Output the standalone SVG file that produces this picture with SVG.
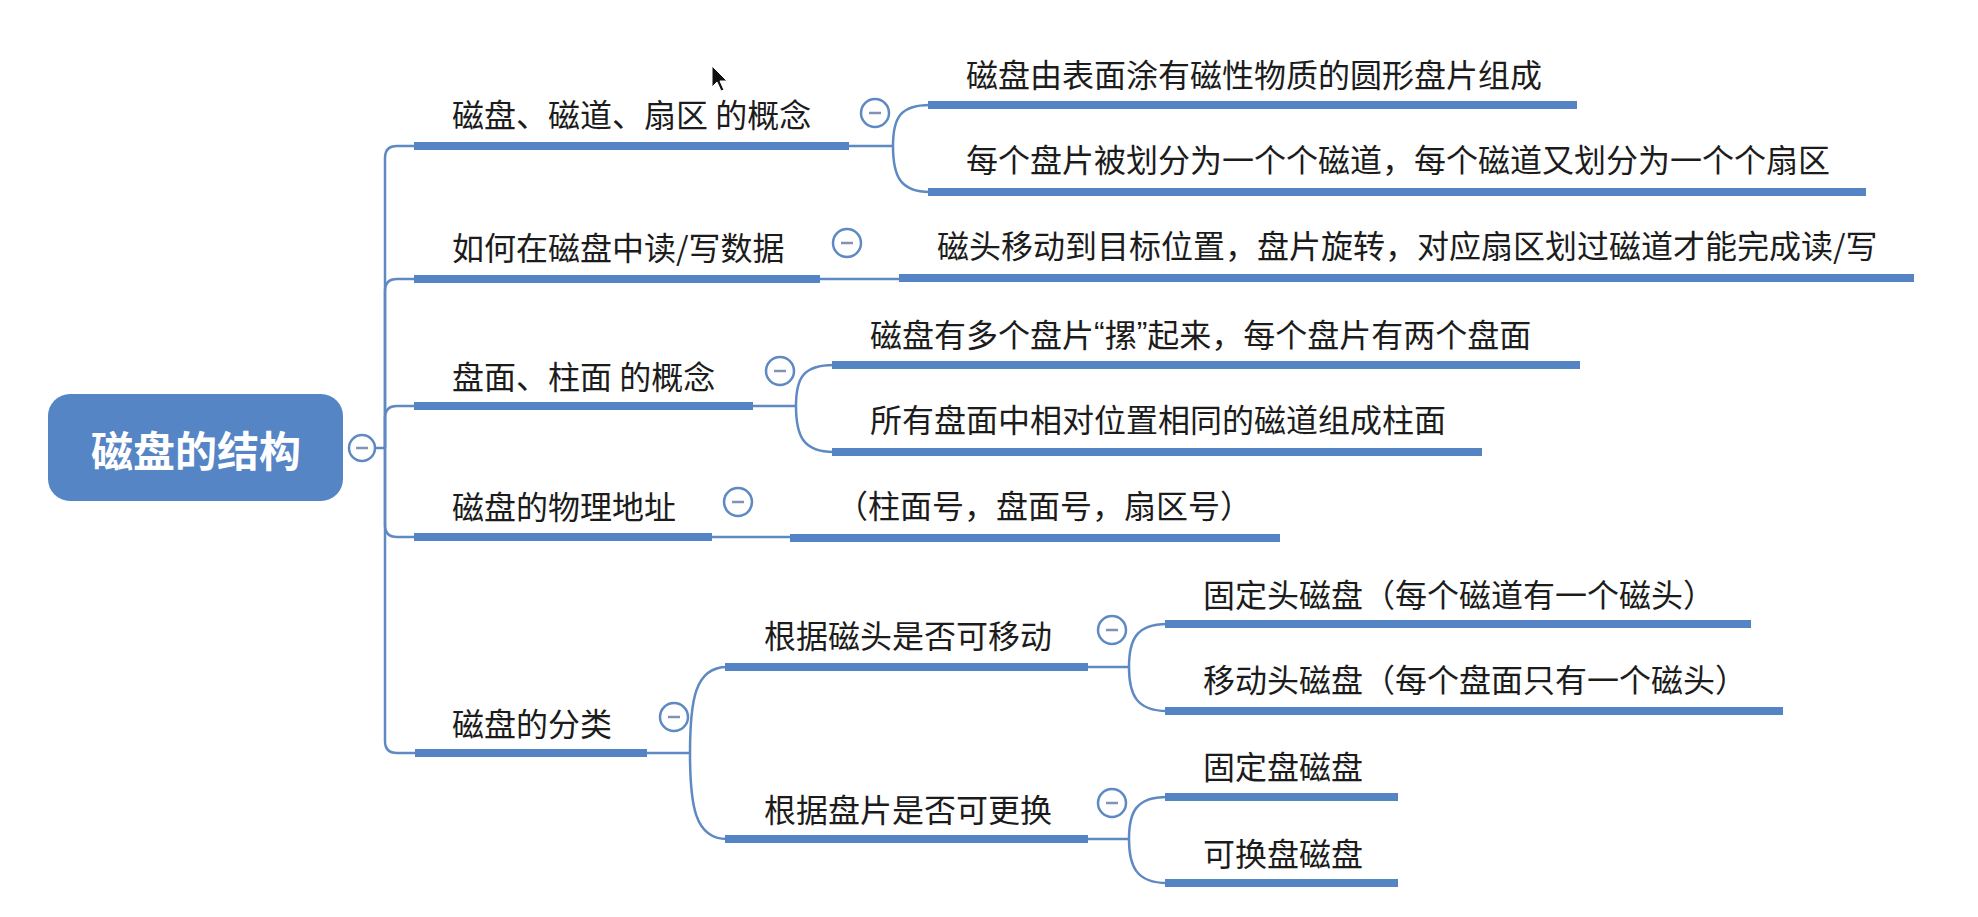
<svg xmlns="http://www.w3.org/2000/svg" width="1978" height="917" viewBox="0 0 1978 917">
<style>
  .t { font-family: "Noto Sans CJK SC", "Noto Sans", sans-serif; font-size: 32px; fill: #1c1c1c; dominant-baseline: central; }
  .q { font-family: "Liberation Sans", "Noto Sans", sans-serif; }
  .root-t { font-family: "Noto Sans CJK SC", "Noto Sans", sans-serif; font-size: 42px; font-weight: bold; fill: #ffffff; dominant-baseline: central; text-anchor: middle; }
  .ul { stroke: #5584c4; stroke-width: 8; fill: none; }
  .cn { stroke: #5f89c2; stroke-width: 2.5; fill: none; }
  .cc { fill: #ffffff; stroke: #5f89c2; stroke-width: 2.5; }
  .mn { stroke: #8392b3; stroke-width: 2.5; }
</style>
<rect width="1978" height="917" fill="#ffffff"/>

<g id="connectors">
  <path class="cn" d="M 362 448 H 385"/>
  <path class="cn" d="M 385 448 V 158 Q 385 146 397 146 H 416"/>
  <path class="cn" d="M 385 448 V 291 Q 385 279 397 279 H 416"/>
  <path class="cn" d="M 385 448 V 418 Q 385 406 397 406 H 416"/>
  <path class="cn" d="M 385 448 V 525 Q 385 537 397 537 H 416"/>
  <path class="cn" d="M 385 448 V 741 Q 385 753 397 753 H 417"/>
  <path class="cn" d="M 847 146 H 893"/>
  <path class="cn" d="M 893 146 C 893 118 900 105 930 105"/>
  <path class="cn" d="M 893 146 C 893 176 900 192 930 192"/>
  <path class="cn" d="M 818 279 H 901"/>
  <path class="cn" d="M 751 406 H 796"/>
  <path class="cn" d="M 796 406 C 796 378 803 365 834 365"/>
  <path class="cn" d="M 796 406 C 796 436 803 452 834 452"/>
  <path class="cn" d="M 710 537 H 792"/>
  <path class="cn" d="M 645 753 H 690"/>
  <path class="cn" d="M 690 753 C 690 700 695 667 727 667"/>
  <path class="cn" d="M 690 753 C 690 806 695 839 727 839"/>
  <path class="cn" d="M 1086 667 H 1129"/>
  <path class="cn" d="M 1129 667 C 1129 640 1136 624 1167 624"/>
  <path class="cn" d="M 1129 667 C 1129 694 1136 711 1167 711"/>
  <path class="cn" d="M 1086 839 H 1129"/>
  <path class="cn" d="M 1129 839 C 1129 812 1136 797 1167 797"/>
  <path class="cn" d="M 1129 839 C 1129 866 1136 883 1167 883"/>
</g>

<g id="root">
  <rect x="48" y="394" width="295" height="107" rx="22" ry="22" fill="#5585c5"/>
  <text class="root-t" x="196" y="448">磁盘的结构</text>
  <circle class="cc" cx="362" cy="448" r="13"/>
  <line class="mn" x1="356" y1="448" x2="368" y2="448"/>
</g>

<g id="n1">
  <text class="t" x="452" y="113">磁盘、磁道、扇区 的概念</text>
  <line class="ul" x1="414" y1="146" x2="849" y2="146"/>
  <circle class="cc" cx="875" cy="113" r="14"/>
  <line class="mn" x1="869" y1="113" x2="881" y2="113"/>
</g>
<g id="n1a">
  <text class="t" x="966" y="73">磁盘由表面涂有磁性物质的圆形盘片组成</text>
  <line class="ul" x1="928" y1="105" x2="1577" y2="105"/>
</g>
<g id="n1b">
  <text class="t" x="966" y="158">每个盘片被划分为一个个磁道，每个磁道又划分为一个个扇区</text>
  <line class="ul" x1="928" y1="192" x2="1866" y2="192"/>
</g>

<g id="n2">
  <text class="t" x="452" y="246">如何在磁盘中读/写数据</text>
  <line class="ul" x1="414" y1="279" x2="820" y2="279"/>
  <circle class="cc" cx="847" cy="243" r="14"/>
  <line class="mn" x1="841" y1="243" x2="853" y2="243"/>
</g>
<g id="n2a">
  <text class="t" x="937" y="244">磁头移动到目标位置，盘片旋转，对应扇区划过磁道才能完成读/写</text>
  <line class="ul" x1="899" y1="278" x2="1914" y2="278"/>
</g>

<g id="n3">
  <text class="t" x="452" y="375">盘面、柱面 的概念</text>
  <line class="ul" x1="414" y1="406" x2="753" y2="406"/>
  <circle class="cc" cx="780" cy="371" r="14"/>
  <line class="mn" x1="774" y1="371" x2="786" y2="371"/>
</g>
<g id="n3a">
  <text class="t" x="870" y="333">磁盘有多个盘片<tspan class="q">“</tspan>摞<tspan class="q">”</tspan>起来，每个盘片有两个盘面</text>
  <line class="ul" x1="832" y1="365" x2="1580" y2="365"/>
</g>
<g id="n3b">
  <text class="t" x="870" y="418">所有盘面中相对位置相同的磁道组成柱面</text>
  <line class="ul" x1="832" y1="452" x2="1482" y2="452"/>
</g>

<g id="n4">
  <text class="t" x="452" y="505">磁盘的物理地址</text>
  <line class="ul" x1="414" y1="537" x2="712" y2="537"/>
  <circle class="cc" cx="738" cy="502" r="14"/>
  <line class="mn" x1="732" y1="502" x2="744" y2="502"/>
</g>
<g id="n4a">
  <text class="t" x="836" y="504">（柱面号，盘面号，扇区号）</text>
  <line class="ul" x1="790" y1="538" x2="1280" y2="538"/>
</g>

<g id="n5">
  <text class="t" x="452" y="722">磁盘的分类</text>
  <line class="ul" x1="415" y1="753" x2="647" y2="753"/>
  <circle class="cc" cx="674" cy="717" r="14"/>
  <line class="mn" x1="668" y1="717" x2="680" y2="717"/>
</g>
<g id="n5a">
  <text class="t" x="764" y="634">根据磁头是否可移动</text>
  <line class="ul" x1="725" y1="667" x2="1088" y2="667"/>
  <circle class="cc" cx="1112" cy="630" r="14"/>
  <line class="mn" x1="1106" y1="630" x2="1118" y2="630"/>
</g>
<g id="n5a1">
  <text class="t" x="1203" y="593">固定头磁盘（每个磁道有一个磁头）</text>
  <line class="ul" x1="1165" y1="624" x2="1751" y2="624"/>
</g>
<g id="n5a2">
  <text class="t" x="1203" y="678">移动头磁盘（每个盘面只有一个磁头）</text>
  <line class="ul" x1="1165" y1="711" x2="1783" y2="711"/>
</g>
<g id="n5b">
  <text class="t" x="764" y="808">根据盘片是否可更换</text>
  <line class="ul" x1="725" y1="839" x2="1088" y2="839"/>
  <circle class="cc" cx="1112" cy="803" r="14"/>
  <line class="mn" x1="1106" y1="803" x2="1118" y2="803"/>
</g>
<g id="n5b1">
  <text class="t" x="1203" y="765">固定盘磁盘</text>
  <line class="ul" x1="1165" y1="797" x2="1398" y2="797"/>
</g>
<g id="n5b2">
  <text class="t" x="1203" y="852">可换盘磁盘</text>
  <line class="ul" x1="1165" y1="883" x2="1398" y2="883"/>
</g>

<g id="cursor">
  <path d="M 712 66 L 712 87 L 717 82 L 721 91 L 724 90 L 720 81 L 727 81 Z" fill="#111111" stroke="#ffffff" stroke-width="1"/>
</g>
</svg>
